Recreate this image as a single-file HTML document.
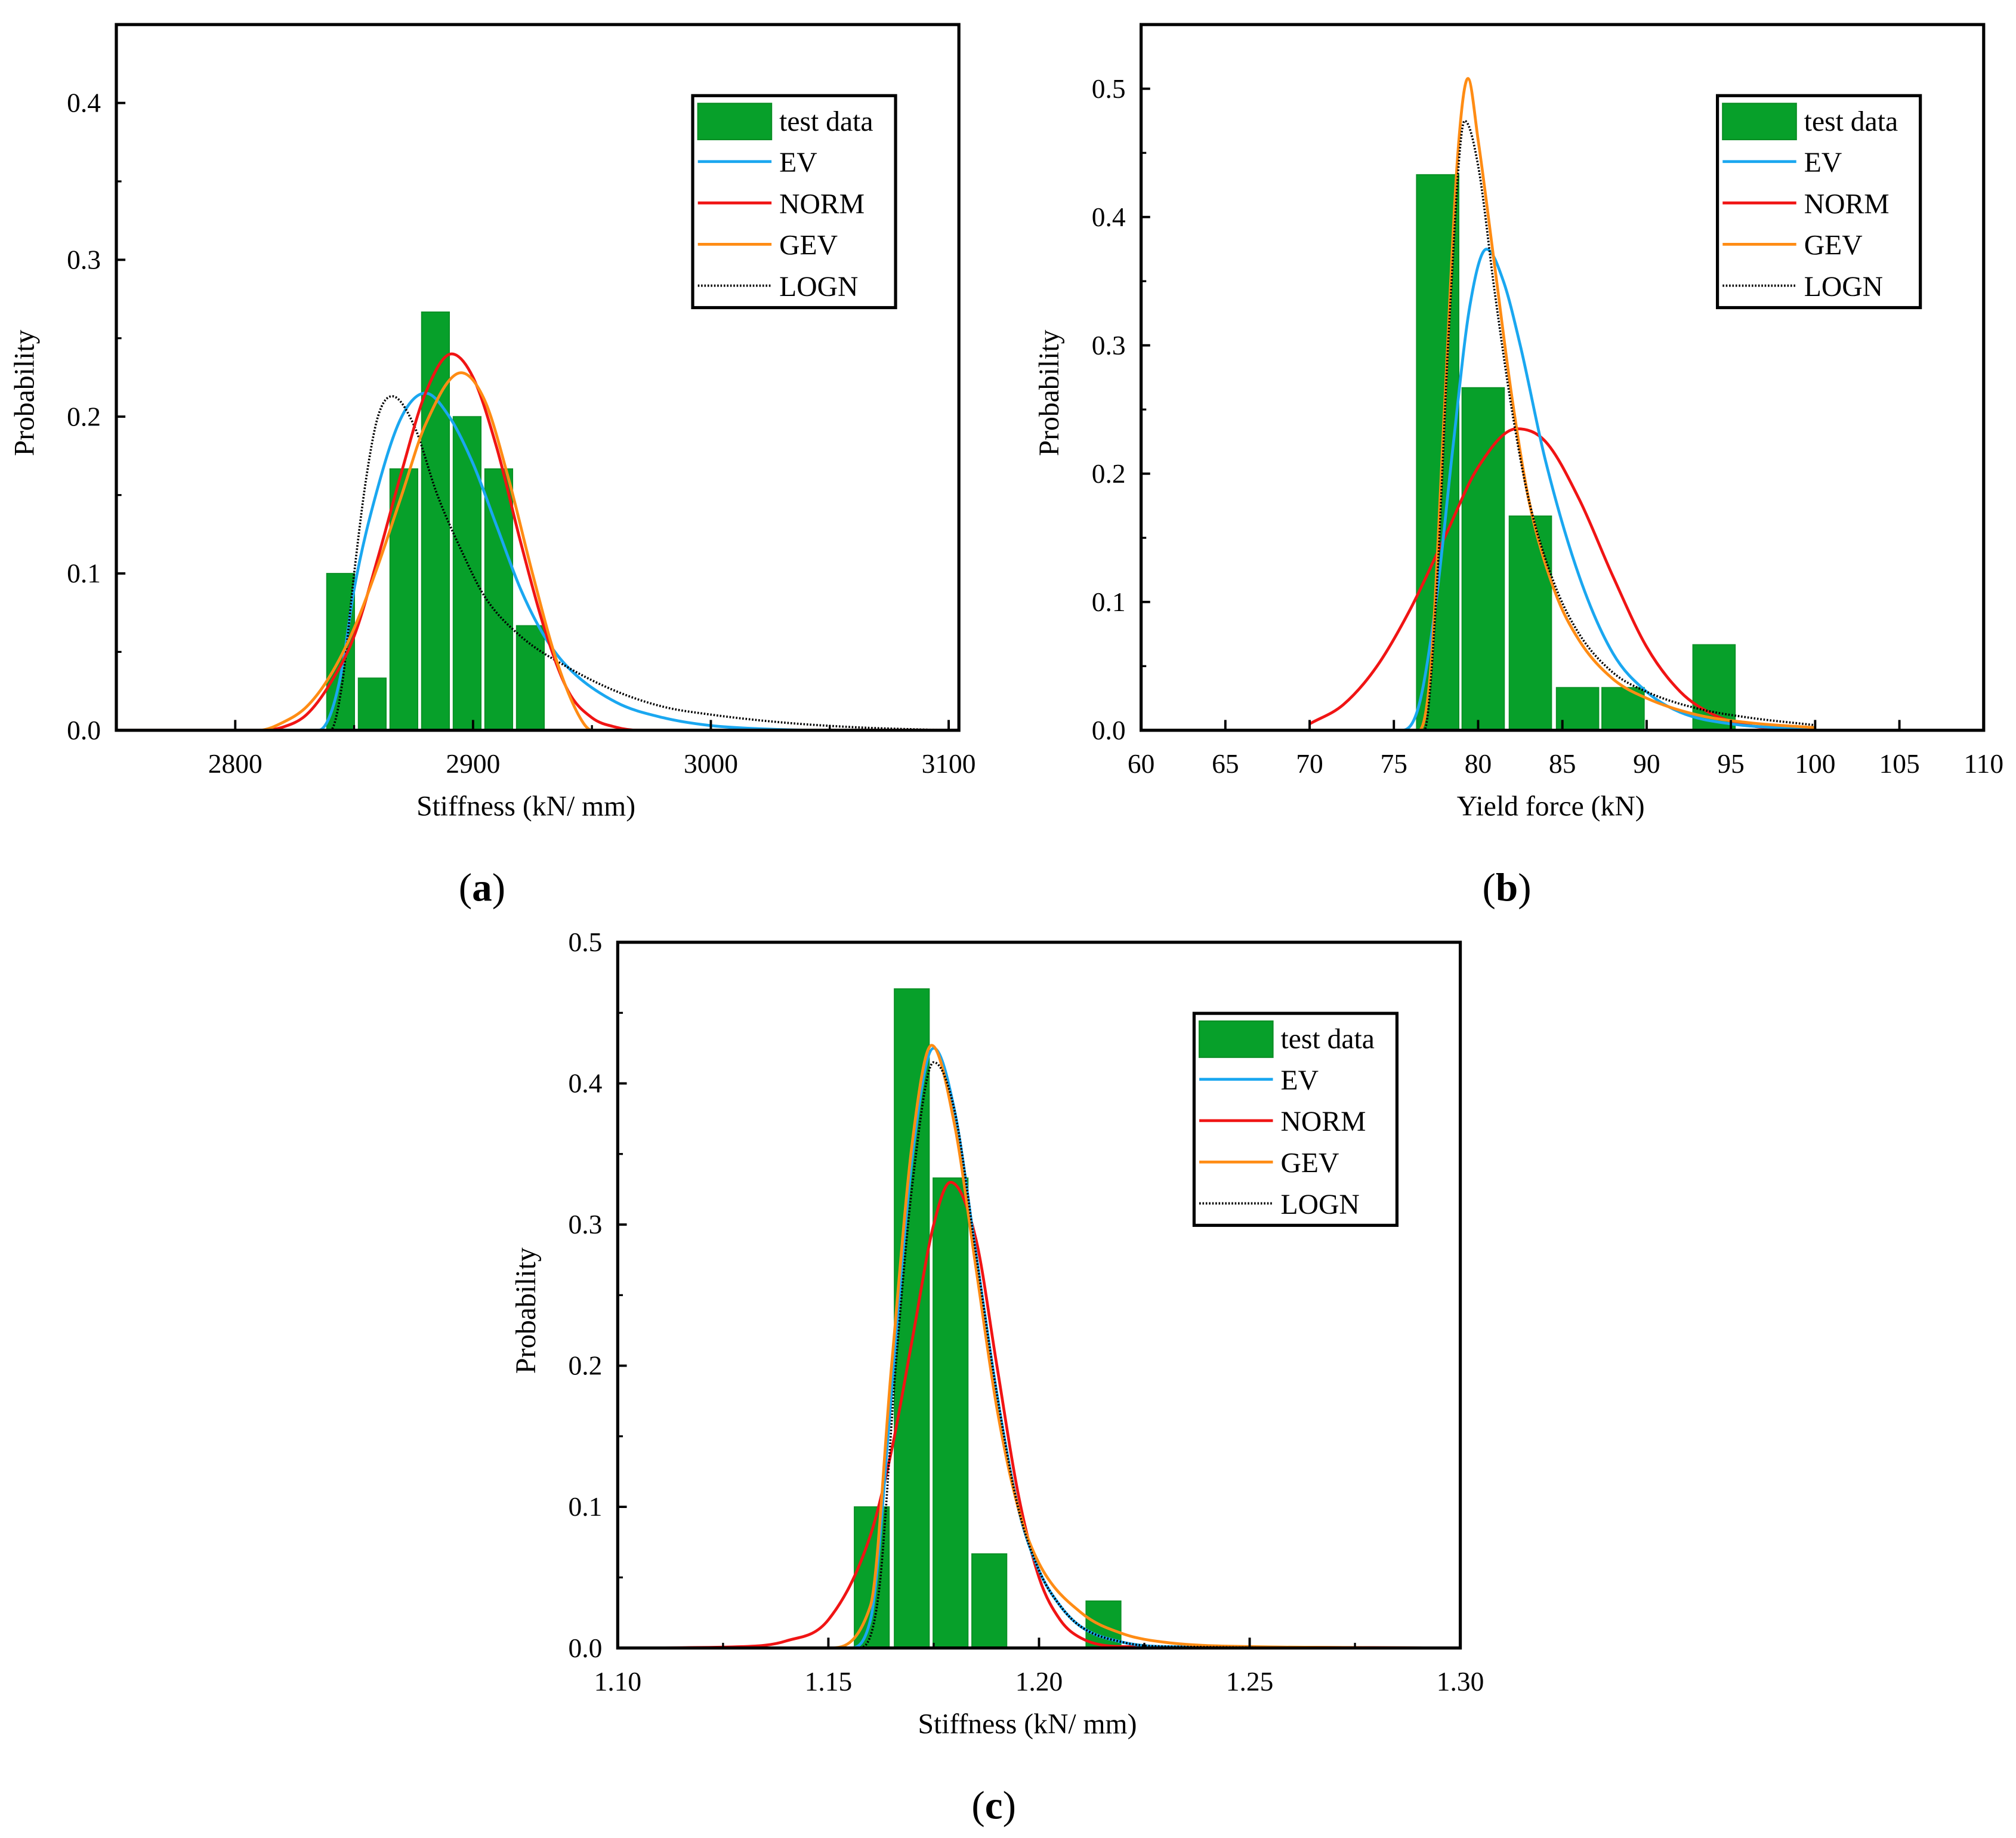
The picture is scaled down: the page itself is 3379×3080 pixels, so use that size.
<!DOCTYPE html>
<html><head><meta charset="utf-8"><style>
html,body{margin:0;padding:0;background:#fff;}
svg{display:block;}
</style></head><body>
<svg id="fig" width="3379" height="3080" viewBox="0 0 1560 1422" xmlns="http://www.w3.org/2000/svg" font-family="'Liberation Serif','DejaVu Serif',serif">
<rect x="0" y="0" width="1560" height="1422" fill="#fff"/>
</svg>
<script>
// ---------- Panel (a) data ----------
const aBarCenters = [2844.3, 2857.6, 2870.9, 2884.2, 2897.5, 2910.8, 2924.1];
const aBarValues  = [0.1, 0.0333, 0.1667, 0.2667, 0.2, 0.1667, 0.0667];
const aNormX = [2750,2810,2820,2830,2840,2850,2860,2870,2880,2891,2900,2910,2920,2930,2940,2950,2960,2970,3104];
const aNormY = [0,0,0.002,0.01,0.03,0.06,0.11,0.165,0.215,0.24,0.225,0.18,0.12,0.065,0.025,0.008,0.002,0,0];
const aGevX = [2750,2810,2820,2830,2840,2850,2860,2870,2880,2895,2905,2915,2925,2935,2945,2950,3104];
const aGevY = [0,0,0.005,0.015,0.035,0.065,0.105,0.15,0.195,0.228,0.21,0.16,0.1,0.045,0.008,0,0];
const aEvX = [2750,2835,2840,2845,2850,2860,2870,2880,2890,2900,2910,2920,2930,2940,2960,2980,3000,3020,3050,3104];
const aEvY = [0,0,0.01,0.04,0.09,0.155,0.2,0.215,0.2,0.17,0.13,0.09,0.06,0.04,0.018,0.008,0.003,0.001,0,0];
const aLognX = [2750,2840,2845,2850,2855,2860,2866,2875,2885,2895,2905,2920,2940,2960,2980,3000,3030,3060,3100];
const aLognY = [0,0,0.03,0.1,0.16,0.2,0.213,0.195,0.15,0.115,0.085,0.06,0.04,0.025,0.015,0.01,0.005,0.002,0];
const aXTicks = [2800, 2900, 3000, 3100];
const aYTicks = [0.0, 0.1, 0.2, 0.3, 0.4];

// ---------- Panel (b) data ----------
const bBarCenters = [77.6, 80.3, 83.1, 85.9, 88.6, 94.0];
const bBarValues  = [0.433, 0.267, 0.167, 0.0333, 0.0333, 0.0667];
const bNormX = [70,72,74,76,78,80,82.3,84,86,88,90,92,94,96,98,100];
const bNormY = [0.005,0.02,0.05,0.095,0.15,0.205,0.235,0.225,0.18,0.12,0.065,0.03,0.012,0.004,0.001,0];
const bEvX = [60,75.5,76.5,77.5,78.5,79.5,80.5,81.5,82.5,84,86,88,90,92,95,100];
const bEvY = [0,0,0.02,0.1,0.22,0.33,0.375,0.35,0.3,0.21,0.12,0.06,0.03,0.014,0.005,0.001];
const bGevX = [60,76.5,77.2,78,78.8,79.4,80,81,82,83,84.5,86,88,90,93,96,100];
const bGevY = [0,0,0.05,0.25,0.45,0.508,0.46,0.36,0.26,0.18,0.11,0.07,0.04,0.025,0.012,0.006,0.002];
const bLognX = [70,76.8,77.5,78.3,79.2,80,81,82,83,84.5,86,88,90,93,96,100];
const bLognY = [0,0,0.1,0.32,0.475,0.44,0.34,0.25,0.18,0.115,0.075,0.045,0.03,0.017,0.01,0.004];
const bXTicks = [60,65,70,75,80,85,90,95,100,105,110];
const bYTicks = [0.0,0.1,0.2,0.3,0.4,0.5];

// ---------- Panel (c) data ----------
const cBarCenters = [1.1603, 1.1698, 1.1790, 1.1882, 1.2153];
const cBarValues  = [0.1, 0.467, 0.333, 0.0667, 0.0333];
const cNormX = [1.10,1.13,1.14,1.15,1.16,1.165,1.17,1.175,1.179,1.185,1.19,1.195,1.2,1.205,1.21,1.22,1.30];
const cNormY = [0,0.001,0.005,0.02,0.08,0.14,0.22,0.3,0.33,0.29,0.2,0.11,0.05,0.02,0.007,0.001,0];
const cEvX = [1.10,1.155,1.16,1.165,1.17,1.175,1.18,1.185,1.19,1.195,1.2,1.205,1.21,1.22,1.23,1.30];
const cEvY = [0,0,0.02,0.18,0.35,0.425,0.38,0.28,0.18,0.1,0.055,0.03,0.015,0.004,0.001,0];
const cGevX = [1.10,1.15,1.16,1.165,1.17,1.1745,1.18,1.185,1.19,1.195,1.2,1.21,1.22,1.23,1.25,1.30];
const cGevY = [0,0,0.03,0.2,0.36,0.427,0.37,0.27,0.17,0.1,0.06,0.025,0.01,0.004,0.001,0];
const cLognX = [1.10,1.157,1.162,1.166,1.17,1.175,1.18,1.185,1.19,1.195,1.2,1.205,1.21,1.22,1.23,1.30];
const cLognY = [0,0,0.04,0.2,0.33,0.415,0.38,0.28,0.18,0.1,0.055,0.03,0.015,0.004,0.001,0];
const cXTicks = [1.10,1.15,1.20,1.25,1.30];
const cYTicks = [0.0,0.1,0.2,0.3,0.4,0.5];

const NS = "http://www.w3.org/2000/svg";
const svg = document.getElementById('fig');
function el(tag, attrs, parent) {
  const e = document.createElementNS(NS, tag);
  for (const k in attrs) e.setAttribute(k, attrs[k]);
  (parent || svg).appendChild(e);
  return e;
}
// monotone cubic (Fritsch-Carlson) path, no overshoot
function smoothPath(pts) {
  const n = pts.length;
  const dx = [], m = [], t = [];
  for (let i = 0; i < n - 1; i++) { dx[i] = pts[i+1][0] - pts[i][0]; m[i] = (pts[i+1][1] - pts[i][1]) / dx[i]; }
  t[0] = m[0]; t[n-1] = m[n-2];
  for (let i = 1; i < n - 1; i++) t[i] = (m[i-1] * m[i] <= 0) ? 0 : (m[i-1] + m[i]) / 2;
  for (let i = 0; i < n - 1; i++) {
    if (m[i] === 0) { t[i] = 0; t[i+1] = 0; continue; }
    const a = t[i] / m[i], b = t[i+1] / m[i], s = a*a + b*b;
    if (s > 9) { const k = 3 / Math.sqrt(s); t[i] = k*a*m[i]; t[i+1] = k*b*m[i]; }
  }
  let d = "M" + pts[0][0].toFixed(2) + "," + pts[0][1].toFixed(2);
  for (let i = 0; i < n - 1; i++) {
    const h = dx[i] / 3;
    d += " C" + (pts[i][0] + h).toFixed(2) + "," + (pts[i][1] + t[i]*h).toFixed(2) + " " +
         (pts[i+1][0] - h).toFixed(2) + "," + (pts[i+1][1] - t[i+1]*h).toFixed(2) + " " +
         pts[i+1][0].toFixed(2) + "," + pts[i+1][1].toFixed(2);
  }
  return d;
}

function panel(cfg) {
  const g = el('g', {});
  
  
  const L = cfg.left, R = cfg.right, T = cfg.top, B = cfg.bottom;
  const sx = v => L + (v - cfg.xmin) / (cfg.xmax - cfg.xmin) * (R - L);
  const sy = v => B - (v - cfg.ymin) / (cfg.ymax - cfg.ymin) * (B - T);
  const clip = el('clipPath', {id: cfg.name + '-clip'}, g);
  el('rect', {x: L, y: T, width: R - L, height: B - T}, clip);
  const bars = el('g', {'clip-path': 'url(#' + cfg.name + '-clip)'}, g);
  
  
  cfg.barCenters.forEach((c, i) => {
    const x0 = sx(c - cfg.binW / 2) + 1.5, x1 = sx(c + cfg.binW / 2) - 1.5;
    const r = el('rect', {x: x0, y: sy(cfg.barValues[i]), width: x1 - x0, height: B - sy(cfg.barValues[i]), fill: '#07a02a', stroke: '#0a8f25', 'stroke-width': 0.8}, bars);
    
    
  });
  const curves = [
    {n: 'ev-curve', x: cfg.ev[0], y: cfg.ev[1], c: '#1aa7f0', dash: null},
    {n: 'norm-curve', x: cfg.norm[0], y: cfg.norm[1], c: '#f01414', dash: null},
    {n: 'gev-curve', x: cfg.gev[0], y: cfg.gev[1], c: '#ff8c14', dash: null},
    {n: 'logn-curve', x: cfg.logn[0], y: cfg.logn[1], c: '#000', dash: '1.2 1.3'}
  ];
  const order = cfg.order || [0, 1, 2, 3];
  order.forEach(k => {
    const s = curves[k];
    const pts = s.x.map((v, i) => [sx(v), sy(s.y[i])]);
    const a = {d: smoothPath(pts), fill: 'none', stroke: s.c, 'stroke-width': s.dash ? 1.7 : 2.2, 'clip-path': 'url(#' + cfg.name + '-clip)'};
    if (s.dash) a['stroke-dasharray'] = s.dash;
    const p = el('path', a, g);
    
    
  });
  const fr = el('rect', {x: L, y: T, width: R - L, height: B - T, fill: 'none', stroke: '#000', 'stroke-width': 2.4}, g);
  
  
  cfg.yTicks.forEach((v, i) => {
    el('line', {x1: L, x2: L + 7, y1: sy(v), y2: sy(v), stroke: '#000', 'stroke-width': 1.8}, g);
    const m = v + 0.05;
    if (m < cfg.ymax) el('line', {x1: L, x2: L + 4, y1: sy(m), y2: sy(m), stroke: '#000', 'stroke-width': 1.5}, g);
    const t = el('text', {x: L - 12, y: sy(v) + 7, 'text-anchor': 'end', 'font-size': 21}, g);
    t.textContent = v.toFixed(1);
    
    
  });
  cfg.xTicks.forEach((v, i) => {
    el('line', {x1: sx(v), x2: sx(v), y1: B, y2: B - 8, stroke: '#000', 'stroke-width': 1.8}, g);
    if (cfg.xMinor && i < cfg.xTicks.length - 1) {
      const m = v + cfg.xMinor;
      el('line', {x1: sx(m), x2: sx(m), y1: B, y2: B - 4, stroke: '#000', 'stroke-width': 1.5}, g);
    }
    const t = el('text', {x: sx(v), y: B + 33, 'text-anchor': 'middle', 'font-size': 21}, g);
    t.textContent = cfg.xFmt(v);
    
    
  });
  const xt = el('text', {x: (L + R) / 2 - 9, y: B + 66, 'text-anchor': 'middle', 'font-size': 22}, g);
  xt.textContent = cfg.xTitle;
  
  
  const yc = (T + B) / 2 + 12;
  const yt = el('text', {x: 0, y: 0, 'text-anchor': 'middle', 'font-size': 22, transform: 'translate(' + (L - 64) + ',' + yc + ') rotate(-90)'}, g);
  yt.textContent = 'Probability';
  
  
  const lg = el('g', {}, g);
  
  
  const lx = cfg.legX, ly = cfg.legY;
  el('rect', {x: lx, y: ly, width: 157, height: 164, fill: '#fff', stroke: '#000', 'stroke-width': 2.4}, lg);
  const labels = ['test data', 'EV', 'NORM', 'GEV', 'LOGN'];
  const cols = [null, '#1aa7f0', '#f01414', '#ff8c14', '#000'];
  labels.forEach((lab, i) => {
    const cy = ly + 19 + i * 32;
    if (i === 0) el('rect', {x: lx + 4, y: cy - 13, width: 57, height: 28, fill: '#07a02a', stroke: '#0a8f25', 'stroke-width': 1}, lg);
    else {
      const a = {x1: lx + 4, x2: lx + 61, y1: cy, y2: cy, stroke: cols[i], 'stroke-width': i === 4 ? 1.8 : 2.2};
      if (i === 4) a['stroke-dasharray'] = '1.2 1.3';
      el('line', a, lg);
    }
    const t = el('text', {x: lx + 67, y: cy + 8, 'font-size': 22}, lg);
    t.textContent = lab;
    
    
  });
  const pl = el('text', {x: cfg.labX, y: cfg.labY, 'text-anchor': 'middle', 'font-size': 31}, g);
  pl.innerHTML = '(<tspan font-weight="bold">' + cfg.letter + '</tspan>)';
  
  
}

panel({name: 'panel-a', left: 90, right: 742, top: 19, bottom: 565, xmin: 2750, xmax: 3104.3, ymin: 0, ymax: 0.45,
  barCenters: aBarCenters, barValues: aBarValues, binW: 13.3,
  ev: [aEvX, aEvY], norm: [aNormX, aNormY], gev: [aGevX, aGevY], logn: [aLognX, aLognY],
  order: [0, 3, 1, 2],
  xTicks: aXTicks, yTicks: aYTicks, xMinor: 50, xFmt: v => String(v), xTitle: 'Stiffness (kN/ mm)',
  legX: 536, legY: 74, letter: 'a', labX: 373, labY: 697});
panel({name: 'panel-b', left: 883, right: 1535, top: 19, bottom: 565, xmin: 60, xmax: 110, ymin: 0, ymax: 0.55,
  barCenters: bBarCenters, barValues: bBarValues, binW: 2.74,
  ev: [bEvX, bEvY], norm: [bNormX, bNormY], gev: [bGevX, bGevY], logn: [bLognX, bLognY],
  order: [1, 0, 2, 3],
  xTicks: bXTicks, yTicks: bYTicks, xMinor: 0, xFmt: v => String(v), xTitle: 'Yield force (kN)',
  legX: 1329, legY: 74, letter: 'b', labX: 1166, labY: 697});
panel({name: 'panel-c', left: 478, right: 1130, top: 729, bottom: 1275, xmin: 1.10, xmax: 1.30, ymin: 0, ymax: 0.5,
  barCenters: cBarCenters, barValues: cBarValues, binW: 0.0092,
  ev: [cEvX, cEvY], norm: [cNormX, cNormY], gev: [cGevX, cGevY], logn: [cLognX, cLognY],
  order: [1, 0, 2, 3],
  xTicks: cXTicks, yTicks: cYTicks, xMinor: 0.025, xFmt: v => v.toFixed(2), xTitle: 'Stiffness (kN/ mm)',
  legX: 924, legY: 784, letter: 'c', labX: 769, labY: 1407});
</script>
</body></html>
